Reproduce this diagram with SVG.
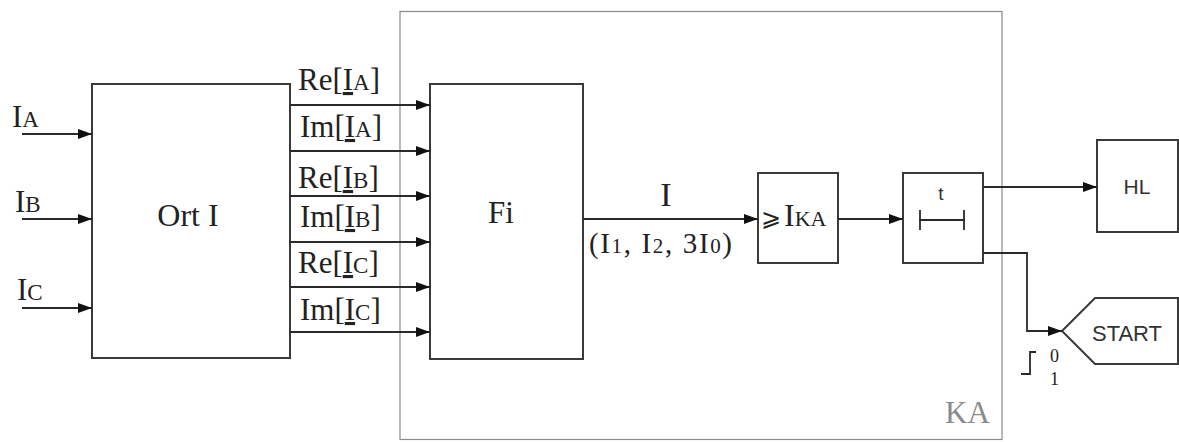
<svg xmlns="http://www.w3.org/2000/svg" width="1179" height="442" viewBox="0 0 1179 442">
<style>
.box{fill:#fff;stroke:#3a3a3a;stroke-width:2}
.frame{fill:none;stroke:#8a8a8a;stroke-width:1.2}
.ln{fill:none;stroke:#2a2a2a;stroke-width:1.8}
.ser{font-family:"Liberation Serif","Times New Roman","DejaVu Serif",serif;fill:#222}
.sans{font-family:"Liberation Sans",Arial,sans-serif;fill:#333}
.lbl{font-size:31px}
.sub{font-size:23px}
.ul{text-decoration:underline;text-decoration-thickness:1px}
</style>
<defs>
<marker id="ah" markerUnits="userSpaceOnUse" markerWidth="14" markerHeight="10" refX="14" refY="5" orient="auto">
<path d="M0,0 L14,5 L0,10 Z" fill="#111"/>
</marker>
</defs>
<rect fill="#fff" x="0" y="0" width="1179" height="442"/>

<g id="KA">
<rect class="frame" x="400" y="11.5" width="602" height="428"/>
<text class="ser" x="945" y="423" font-size="31" style="fill:#8a8a8a">KA</text>
</g>

<g id="OrtI">
<rect class="box" x="92" y="84" width="198" height="274"/>
<text class="ser" x="188" y="226" font-size="32" text-anchor="middle">Ort I</text>
</g>

<g id="Fi">
<rect class="box" x="430" y="84" width="153" height="275"/>
<text class="ser" x="501" y="223" font-size="31" text-anchor="middle">Fi</text>
</g>

<g id="IKA">
<rect class="box" x="758" y="173" width="80" height="90"/>
<text class="ser" x="761" y="226" font-size="32"><tspan font-size="24">⩾</tspan><tspan dx="3">I</tspan><tspan font-size="22">KA</tspan></text>
</g>

<g id="Timer">
<rect class="box" x="903" y="173" width="80" height="90"/>
<text class="sans" x="941" y="200" font-size="19" text-anchor="middle">t</text>
<path class="ln" d="M919,220 H965 M920,210 V230 M964,210 V230" stroke-width="2.2"/>
</g>

<g id="HL">
<rect class="box" x="1097" y="140" width="81" height="92"/>
<text class="sans" x="1137" y="194" font-size="21" text-anchor="middle">HL</text>
</g>

<g id="START">
<polygon class="box" points="1062,331 1095,298 1178,298 1178,364 1095,364"/>
<text class="sans" x="1127" y="341" font-size="22" text-anchor="middle">START</text>
</g>

<g id="connectors">
<line class="ln" x1="22" y1="134" x2="92" y2="134" marker-end="url(#ah)"/>
<line class="ln" x1="22" y1="219" x2="92" y2="219" marker-end="url(#ah)"/>
<line class="ln" x1="22" y1="308" x2="92" y2="308" marker-end="url(#ah)"/>
<line class="ln" x1="290" y1="105" x2="430" y2="105" marker-end="url(#ah)"/>
<line class="ln" x1="290" y1="151" x2="430" y2="151" marker-end="url(#ah)"/>
<line class="ln" x1="290" y1="196" x2="430" y2="196" marker-end="url(#ah)"/>
<line class="ln" x1="290" y1="242" x2="430" y2="242" marker-end="url(#ah)"/>
<line class="ln" x1="290" y1="287" x2="430" y2="287" marker-end="url(#ah)"/>
<line class="ln" x1="290" y1="332" x2="430" y2="332" marker-end="url(#ah)"/>
<line class="ln" x1="583" y1="219" x2="758" y2="219" marker-end="url(#ah)"/>
<line class="ln" x1="838" y1="219" x2="903" y2="219" marker-end="url(#ah)"/>
<line class="ln" x1="983" y1="187" x2="1097" y2="187" marker-end="url(#ah)"/>
<path class="ln" d="M983,253 H1027 V331 H1062" marker-end="url(#ah)"/>
<path class="ln" d="M1021,374 H1030 V352 H1036" stroke-width="1.5"/>
</g>

<g id="labels">
<text class="ser lbl" x="12" y="127">I<tspan class="sub">A</tspan></text>
<text class="ser lbl" x="15" y="212">I<tspan class="sub">B</tspan></text>
<text class="ser lbl" x="17" y="300">I<tspan class="sub">C</tspan></text>

<text class="ser lbl" x="298" y="90">Re[<tspan class="ul">I</tspan><tspan class="sub">A</tspan>]</text>
<text class="ser lbl" x="300" y="137">Im[<tspan class="ul">I</tspan><tspan class="sub">A</tspan>]</text>
<text class="ser lbl" x="298" y="188">Re[<tspan class="ul">I</tspan><tspan class="sub">B</tspan>]</text>
<text class="ser lbl" x="300" y="227">Im[<tspan class="ul">I</tspan><tspan class="sub">B</tspan>]</text>
<text class="ser lbl" x="298" y="273">Re[<tspan class="ul">I</tspan><tspan class="sub">C</tspan>]</text>
<text class="ser lbl" x="300" y="320">Im[<tspan class="ul">I</tspan><tspan class="sub">C</tspan>]</text>

<text class="ser" x="666" y="206" font-size="34" text-anchor="middle">I</text>
<text class="ser" x="589" y="253" font-size="29" textLength="143" lengthAdjust="spacing">(I<tspan font-size="21">1</tspan>, I<tspan font-size="21">2</tspan>, 3I<tspan font-size="21">0</tspan>)</text>

<text class="ser" x="1050" y="362" font-size="18">0</text>
<text class="ser" x="1050" y="385" font-size="18">1</text>
</g>
</svg>
